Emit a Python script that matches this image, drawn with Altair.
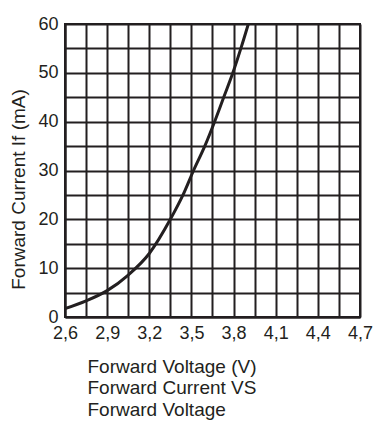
import altair as alt
import pandas as pd

voltage = [2.60, 2.75, 2.90, 3.05, 3.20, 3.35, 3.44, 3.515, 3.595, 3.665, 3.73, 3.795, 3.852, 3.905]
current = [1.7, 3.3, 5.4, 8.6, 13.0, 20.0, 25.0, 30.0, 35.0, 40.0, 45.0, 50.0, 55.0, 60.0]

x_ticks = [2.6, 2.75, 2.9, 3.05, 3.2, 3.35, 3.5, 3.65, 3.8, 3.95, 4.1, 4.25, 4.4, 4.55, 4.7]
y_ticks = [0, 5, 10, 15, 20, 25, 30, 35, 40, 45, 50, 55, 60]

df = pd.DataFrame({"v": voltage, "i": current})

FONT = "Liberation Sans"
INK = "#231f20"

chart = alt.Chart(df).mark_line(
    color=INK, strokeWidth=3, interpolate="monotone", clip=True
).encode(
    x=alt.X("v:Q", scale=alt.Scale(domain=[2.6, 4.7], nice=False, zero=False),
            axis=alt.Axis(values=x_ticks, grid=True, ticks=False,
                          labelExpr="round((datum.value-2.6)/0.15)%2==0 ? replace(format(datum.value,'.1f'),'.',',') : ''",
                          title=["Forward Voltage (V)", "Forward Current VS", "Forward Voltage"],
                          titleX=22, titleY=40, titleAlign="left", titleAnchor="start",
                          titleBaseline="top", titleLineHeight=21.7,
                          labelPadding=7, labelFlush=False, labelOverlap=False)),
    y=alt.Y("i:Q", scale=alt.Scale(domain=[0, 60], nice=False),
            axis=alt.Axis(values=y_ticks, grid=True, ticks=False,
                          labelExpr="datum.value % 10 == 0 ? datum.label : ''",
                          title="Forward Current If (mA)",
                          titleX=-41, titleY=165, titleAngle=-90, titleAlign="center",
                          titleBaseline="alphabetic",
                          labelPadding=7, labelOverlap=False)),
).properties(
    width=295, height=293,
    autosize=alt.AutoSizeParams(type="none"),
    padding={"left": 57, "top": 16, "right": 16, "bottom": 106},
).configure_axis(
    labelFont=FONT, titleFont=FONT, labelFontSize=18, titleFontSize=19,
    labelColor=INK, titleColor=INK, titleFontWeight="normal",
    gridColor=INK, gridWidth=2, gridOpacity=1,
    domainColor=INK, domainWidth=2,
).configure_view(stroke=INK, strokeWidth=2)

chart.save("out.html", embed_options={"renderer": "svg", "actions": False})
